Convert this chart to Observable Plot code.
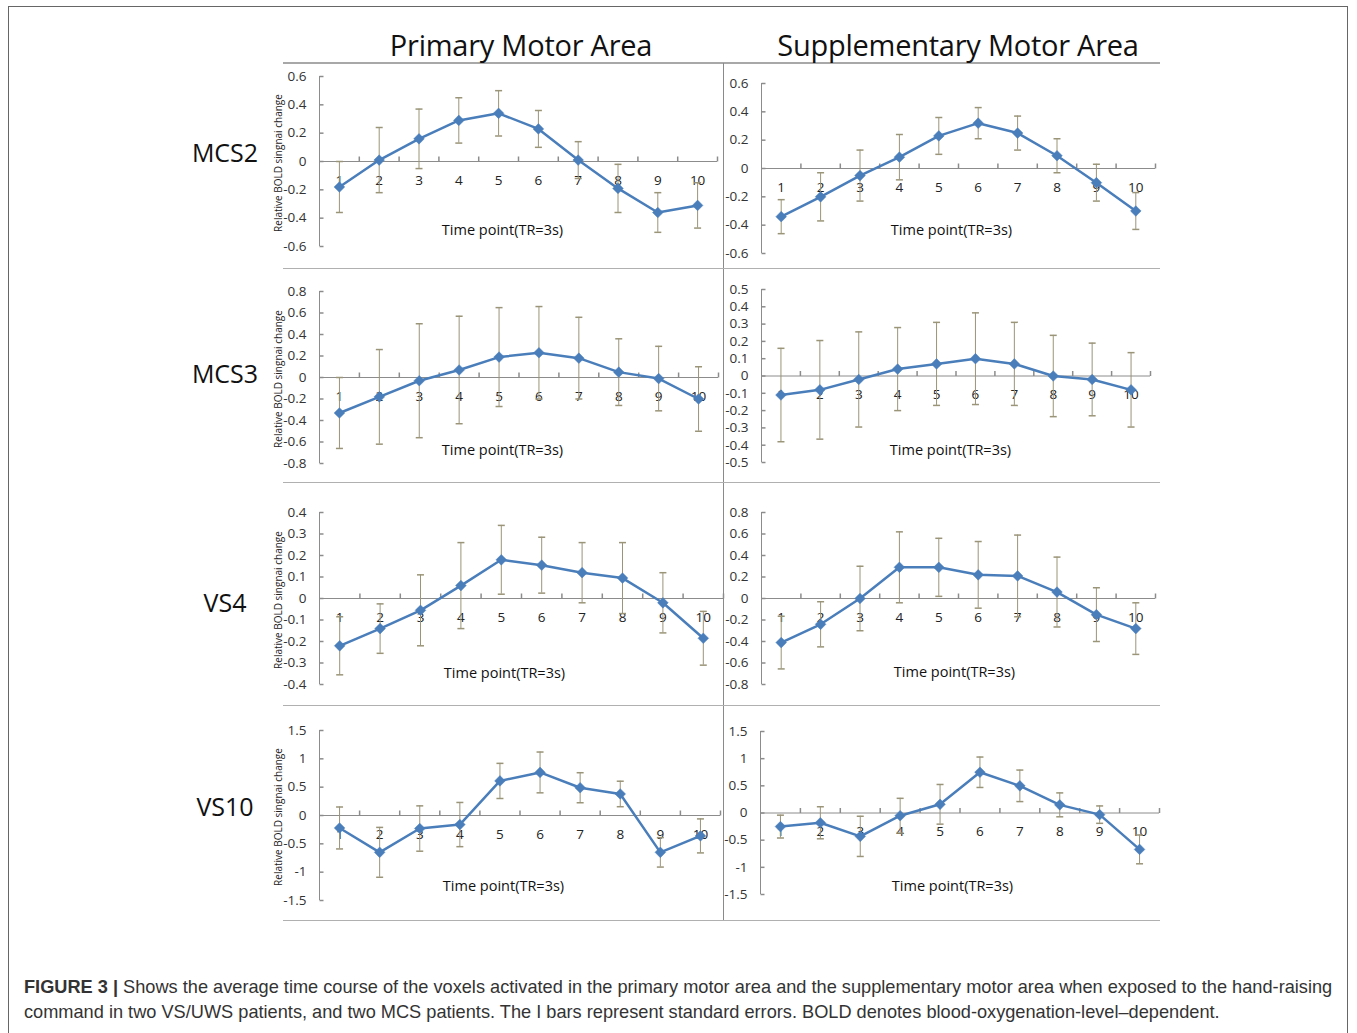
<!DOCTYPE html>
<html><head><meta charset="utf-8">
<script src="https://cdn.jsdelivr.net/npm/d3@7"></script>
<script src="https://cdn.jsdelivr.net/npm/@observablehq/plot@0.6"></script>
<style>
body{margin:0;background:#fff;}
#fig{position:relative;width:1357px;height:1033px;overflow:hidden;font-family:"Open Sans",sans-serif;background:#fff;}
.abs{position:absolute;white-space:nowrap;}
.center{transform:translate(-50%,-50%);}
</style></head><body><div id="fig"></div>
<script>
// ---------- data ----------
const timePoints = [1, 2, 3, 4, 5, 6, 7, 8, 9, 10];
const columnTitles = ["Primary Motor Area", "Supplementary Motor Area"];
const rowLabels = ["MCS2", "MCS3", "VS4", "VS10"];
const yAxisTitle = "Relative BOLD singnai change";
const xAxisTitle = "Time point(TR=3s)";

const mcs2PrimaryMean = [-0.18, 0.01, 0.16, 0.29, 0.34, 0.23, 0.01, -0.19, -0.36, -0.31];
const mcs2PrimaryErr  = [0.18, 0.23, 0.21, 0.16, 0.16, 0.13, 0.13, 0.17, 0.14, 0.16];
const mcs2SmaMean = [-0.34, -0.20, -0.05, 0.08, 0.23, 0.32, 0.25, 0.09, -0.10, -0.30];
const mcs2SmaErr  = [0.12, 0.17, 0.18, 0.16, 0.13, 0.11, 0.12, 0.12, 0.13, 0.13];

const mcs3PrimaryMean = [-0.33, -0.18, -0.03, 0.07, 0.19, 0.23, 0.18, 0.05, -0.01, -0.20];
const mcs3PrimaryErr  = [0.33, 0.44, 0.53, 0.50, 0.46, 0.43, 0.38, 0.31, 0.30, 0.30];
const mcs3SmaMean = [-0.11, -0.08, -0.02, 0.04, 0.07, 0.10, 0.07, 0.00, -0.02, -0.08];
const mcs3SmaErr  = [0.27, 0.285, 0.275, 0.24, 0.24, 0.265, 0.24, 0.235, 0.21, 0.215];

const vs4PrimaryMean = [-0.22, -0.14, -0.055, 0.06, 0.18, 0.155, 0.12, 0.095, -0.02, -0.185];
const vs4PrimaryErr  = [0.135, 0.115, 0.165, 0.20, 0.16, 0.13, 0.14, 0.165, 0.14, 0.125];
const vs4SmaMean = [-0.41, -0.24, 0.00, 0.29, 0.29, 0.22, 0.21, 0.06, -0.15, -0.28];
const vs4SmaErr  = [0.245, 0.21, 0.30, 0.33, 0.27, 0.31, 0.38, 0.325, 0.25, 0.24];

const vs10PrimaryMean = [-0.22, -0.65, -0.23, -0.16, 0.61, 0.76, 0.49, 0.38, -0.65, -0.36];
const vs10PrimaryErr  = [0.37, 0.44, 0.40, 0.39, 0.31, 0.36, 0.265, 0.225, 0.26, 0.30];
const vs10SmaMean = [-0.25, -0.18, -0.43, -0.05, 0.16, 0.75, 0.50, 0.15, -0.03, -0.67];
const vs10SmaErr  = [0.21, 0.295, 0.37, 0.32, 0.365, 0.28, 0.29, 0.22, 0.16, 0.265];

const ticksMcs2 = [-0.6, -0.4, -0.2, 0, 0.2, 0.4, 0.6];
const ticksMcs3Primary = [-0.8, -0.6, -0.4, -0.2, 0, 0.2, 0.4, 0.6, 0.8];
const ticksMcs3Sma = [-0.5, -0.4, -0.3, -0.2, -0.1, 0, 0.1, 0.2, 0.3, 0.4, 0.5];
const ticksVs4Primary = [-0.4, -0.3, -0.2, -0.1, 0, 0.1, 0.2, 0.3, 0.4];
const ticksVs4Sma = [-0.8, -0.6, -0.4, -0.2, 0, 0.2, 0.4, 0.6, 0.8];
const ticksVs10 = [-1.5, -1, -0.5, 0, 0.5, 1, 1.5];

// ---------- layout (page pixels) ----------
const rowBox = [[64, 268], [269, 482], [483, 705], [706, 920]];
const colBox = [[265, 722], [724, 1162]];
const panels = [
  {row:0, col:0, mean:mcs2PrimaryMean, err:mcs2PrimaryErr, ticks:ticksMcs2, ax:319, axEnd:717, top:76, bot:246, lx:502, ly:230},
  {row:0, col:1, mean:mcs2SmaMean, err:mcs2SmaErr, ticks:ticksMcs2, ax:761, axEnd:1155, top:83, bot:253, lx:951, ly:230},
  {row:1, col:0, mean:mcs3PrimaryMean, err:mcs3PrimaryErr, ticks:ticksMcs3Primary, ax:319, axEnd:718, top:291, bot:463, lx:502, ly:450},
  {row:1, col:1, mean:mcs3SmaMean, err:mcs3SmaErr, ticks:ticksMcs3Sma, ax:761, axEnd:1150, top:289, bot:462, lx:950, ly:450},
  {row:2, col:0, mean:vs4PrimaryMean, err:vs4PrimaryErr, ticks:ticksVs4Primary, ax:319, axEnd:723, top:512, bot:684, lx:504, ly:673},
  {row:2, col:1, mean:vs4SmaMean, err:vs4SmaErr, ticks:ticksVs4Sma, ax:761, axEnd:1155, top:512, bot:684, lx:954, ly:672},
  {row:3, col:0, mean:vs10PrimaryMean, err:vs10PrimaryErr, ticks:ticksVs10, ax:319, axEnd:720, top:730, bot:900, lx:503, ly:886},
  {row:3, col:1, mean:vs10SmaMean, err:vs10SmaErr, ticks:ticksVs10, ax:760, axEnd:1159, top:731, bot:894, lx:952, ly:886}
];

const blue = "#4a7ebb";
const errColor = "#9a9478";
const axisColor = "#8c8c8c";

const tickRight = {draw(ctx) { ctx.moveTo(0, 0); ctx.lineTo(4, 0); }};
const tickUp = {draw(ctx) { ctx.moveTo(0, 0); ctx.lineTo(0, -5); }};
const capSym = {draw(ctx) { ctx.moveTo(-3.5, 0); ctx.lineTo(3.5, 0); }};

const fig = document.getElementById("fig");
function addDiv(html, css, cls) {
  const d = document.createElement("div");
  d.className = "abs" + (cls ? " " + cls : "");
  d.innerHTML = html;
  Object.assign(d.style, css);
  fig.appendChild(d);
  return d;
}

// frame & separators
addDiv("", {left:"8px", top:"6px", width:"1340px", height:"1040px", border:"1.5px solid #666", boxSizing:"border-box"});
addDiv("", {left:"283px", top:"62px", width:"877px", height:"0", borderTop:"2px solid #a8a8a8"});
addDiv("", {left:"723px", top:"63px", width:"0", height:"857px", borderLeft:"1.5px solid #8a8a8a"});
rowBox.forEach(([, b]) => addDiv("", {left:"283px", top:b + "px", width:"877px", height:"0", borderTop:"1.5px solid #b0b0b0"}));

// headers
addDiv(columnTitles[0], {left:"521px", top:"44px", fontSize:"29px", color:"#111", letterSpacing:"-0.25px"}, "center");
addDiv(columnTitles[1], {left:"958px", top:"44px", fontSize:"29px", color:"#111", letterSpacing:"-0.25px"}, "center");

// row labels
const rowLabelY = [152, 373, 602, 806];
rowLabels.forEach((r, i) => addDiv(r, {left:"225px", top:rowLabelY[i] + "px", fontSize:"25px", color:"#111"}, "center"));

panels.forEach(p => {
  const [sTop, sBot] = rowBox[p.row];
  const [sLeft, sRight] = colBox[p.col];
  const width = sRight - sLeft, height = sBot - sTop;
  const data = timePoints.map((t, i) => ({t, mean: p.mean[i], lo: p.mean[i] - p.err[i], hi: p.mean[i] + p.err[i]}));
  const boundaries = timePoints.map(t => t + 0.5);
  const ymin = p.ticks[0], ymax = p.ticks[p.ticks.length - 1];
  const chart = Plot.plot({
    width, height,
    marginLeft: p.ax - sLeft,
    marginRight: sRight - p.axEnd,
    marginTop: p.top - sTop,
    marginBottom: sBot - p.bot,
    x: {domain: [0.5, 10.5], axis: null},
    y: {domain: [ymin, ymax], axis: null},
    style: {overflow: "visible", fontFamily: "Open Sans, sans-serif", background: "transparent"},
    marks: [
      Plot.ruleX([0.5], {stroke: axisColor, strokeWidth: 1}),
      Plot.dot(p.ticks, {y: d => d, frameAnchor: "left", symbol: tickRight, stroke: axisColor, fill: "none"}),
      Plot.axisY({ticks: p.ticks, tickSize: 0, tickPadding: 13, tickFormat: d => String(d), fontSize: 13.5, fill: "#333", label: null}),
      Plot.ruleY([0], {stroke: axisColor, strokeWidth: 1}),
      Plot.dot(boundaries, {x: d => d, y: 0, symbol: tickUp, stroke: axisColor, fill: "none"}),
      Plot.text(timePoints, {x: d => d, y: 0, dy: 19, text: d => String(d), fontSize: 13.5, fill: "#222"}),
      Plot.ruleX(data, {x: "t", y1: "lo", y2: "hi", stroke: errColor, strokeWidth: 1}),
      Plot.dot(data, {x: "t", y: "hi", symbol: capSym, stroke: errColor, fill: "none"}),
      Plot.dot(data, {x: "t", y: "lo", symbol: capSym, stroke: errColor, fill: "none"}),
      Plot.line(data, {x: "t", y: "mean", stroke: blue, strokeWidth: 2.5}),
      Plot.dot(data, {x: "t", y: "mean", symbol: "diamond2", fill: blue, stroke: blue, strokeWidth: 0.5, r: 4.8}),
      Plot.text([xAxisTitle], {frameAnchor: "top-left", lineAnchor: "middle", dx: p.lx - p.ax, dy: p.ly - p.top, textAnchor: "middle", fontSize: 14.5, fill: "#111"})
    ]
  });
  chart.style.position = "absolute";
  chart.style.left = sLeft + "px";
  chart.style.top = sTop + "px";
  fig.appendChild(chart);
  if (p.col === 0) {
    addDiv(yAxisTitle, {left:"278px", top:((p.top + p.bot) / 2 + 2) + "px", fontSize:"10px", color:"#222", transform:"translate(-50%,-50%) rotate(-90deg)"});
  }
});

// caption
addDiv('<b>FIGURE 3 |</b> Shows the average time course of the voxels activated in the primary motor area and the supplementary motor area when exposed to the hand-raising<br>command in two VS/UWS patients, and two MCS patients. The I bars represent standard errors. BOLD denotes blood-oxygenation-level–dependent.',
  {left:"24px", top:"975px", fontSize:"18.2px", lineHeight:"25px", fontFamily:"'Liberation Sans', Arial, sans-serif", color:"#333"});
</script>
</body></html>
